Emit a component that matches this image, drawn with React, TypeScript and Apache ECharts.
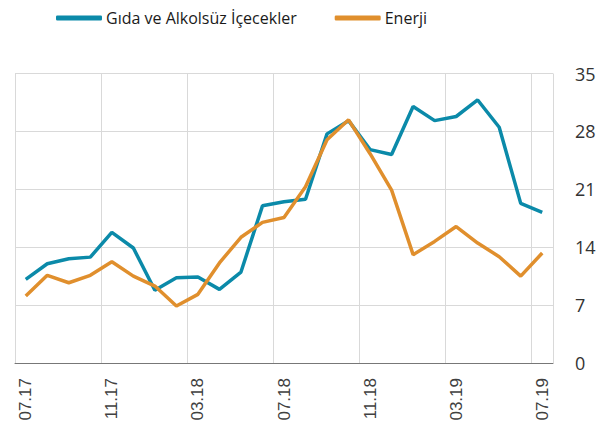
import React, { useEffect, useRef } from "react";
import * as echarts from "echarts";

const categories = [
  "07.17", "08.17", "09.17", "10.17", "11.17", "12.17", "01.18", "02.18", "03.18",
  "04.18", "05.18", "06.18", "07.18", "08.18", "09.18", "10.18", "11.18", "12.18",
  "01.19", "02.19", "03.19", "04.19", "05.19", "06.19", "07.19",
];
const gida = [
  10.1, 12.0, 12.6, 12.8, 15.8, 13.9, 8.8, 10.3, 10.4, 8.9, 11.0, 19.0, 19.5,
  19.8, 27.7, 29.3, 25.8, 25.2, 31.0, 29.3, 29.8, 31.8, 28.5, 19.3, 18.2,
];
const enerji = [
  8.1, 10.6, 9.7, 10.6, 12.25, 10.5, 9.3, 6.9, 8.3, 12.1, 15.2, 17.0, 17.6,
  21.3, 27.0, 29.4, 25.3, 20.9, 13.1, 14.7, 16.5, 14.5, 12.85, 10.5, 13.3,
];

const BLUE = "#0b8aa9";
const ORANGE = "#e08f2d";

export default function App() {
  const ref = useRef<HTMLDivElement>(null);
  useEffect(() => {
    if (!ref.current) return;
    const chart = echarts.init(ref.current, undefined, { renderer: "svg" });
    chart.setOption({
      animation: false,
      backgroundColor: "#ffffff",
      legend: {
        top: 5,
        left: 51,
        itemGap: 38,
        itemWidth: 46,
        itemHeight: 5,
        icon: "roundRect",
        textStyle: { fontFamily: "Open Sans", fontSize: 16, color: "#1a1a1a", padding: [0, 0, 0, -1] },
        data: [
          { name: "Gıda ve Alkolsüz İçecekler", itemStyle: { color: BLUE } },
          { name: "Enerji", itemStyle: { color: ORANGE } },
        ],
      },
      grid: { left: 15, right: 55, top: 73.5, bottom: 71, containLabel: false },
      xAxis: {
        type: "category",
        data: categories,
        boundaryGap: true,
        axisLine: { lineStyle: { color: "#777", width: 1 } },
        axisTick: { interval: 3, length: 6, lineStyle: { color: "#777" } },
        axisLabel: {
          interval: 3,
          rotate: 90,
          margin: 15,
          fontFamily: "Liberation Sans",
          fontSize: 17,
          color: "#404040",
        },
        splitLine: { show: true, interval: 3, lineStyle: { color: "#d9d9d9", width: 1 } },
      },
      yAxis: {
        type: "value",
        position: "right",
        min: 0,
        max: 35,
        interval: 7,
        axisLine: { show: false },
        axisTick: { show: false },
        axisLabel: { margin: 22, fontFamily: "Open Sans", fontSize: 18, color: "#333" },
        splitLine: { lineStyle: { color: "#d9d9d9", width: 1 } },
      },
      series: [
        {
          name: "Gıda ve Alkolsüz İçecekler",
          type: "line",
          data: gida,
          symbol: "none",
          lineStyle: { color: BLUE, width: 3.5 },
          itemStyle: { color: BLUE },
          z: 2,
        },
        {
          name: "Enerji",
          type: "line",
          data: enerji,
          symbol: "none",
          lineStyle: { color: ORANGE, width: 3.5 },
          itemStyle: { color: ORANGE },
          z: 3,
        },
      ],
    });
    return () => chart.dispose();
  }, []);
  return <div ref={ref} style={{ width: 608, height: 434, margin: -8 }} />;
}
